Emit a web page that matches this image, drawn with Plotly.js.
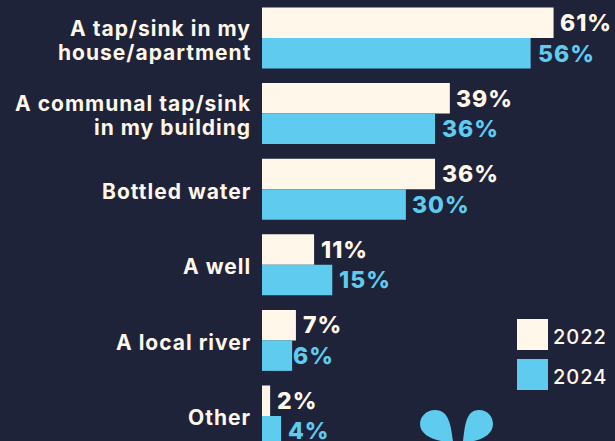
<!DOCTYPE html>
<html><head><meta charset="utf-8">
<script src="https://cdn.plot.ly/plotly-3.0.1.min.js"></script>
<style>html,body{margin:0;padding:0;background:#1e233a;overflow:hidden}
.annotation-text{letter-spacing:1px}</style>
</head><body><div id="chart" style="width:615px;height:441px"></div>
<script>
const categories = ["A tap/sink in my|house/apartment","A communal tap/sink|in my building","Bottled water","A well","A local river","Other"];
const values2022 = [61,39.3,36.2,10.9,7.1,1.7];
const values2024 = [56.2,36.2,30.1,14.7,6.3,4];
const labels2022 = ["61%","39%","36%","11%","7%","2%"];
const labels2024 = ["56%","36%","30%","15%","6%","4%"];
const gaps2022 = [4,4,5,5,5,5];
const gaps2024 = [5,5,4,5,-1,5];
const legendYears = ["2022","2024"];
const cream = "#fff7e9", blue = "#5ecbef", bg = "#1e233a";
const font = "Inter, 'Open Sans', sans-serif";
const W = 615, H = 441, L = 262;
const px = v => (v - L) / (W - L), py = v => 1 - v / H;

const bars = (name, vals, color) => ({type:"bar", orientation:"h", name, x:vals, y:categories, marker:{color, line:{width:0}}, hoverinfo:"skip"});
const labelAnn = (vals, labels, color, shift, gaps) => vals.map((v,i) => ({
  x:v, y:categories[i], xref:"x", yref:"y", text:labels[i], showarrow:false, xanchor:"left", yanchor:"middle",
  xshift:gaps[i], yshift:shift, font:{family:font, size:23, color, weight:800}
}));
const catAnn = categories.flatMap(c => {
  const lines = c.split("|");
  return lines.map((t,j) => ({
    xref:"paper", yref:"y", x:px(250), y:c, text:t, showarrow:false, xanchor:"right", yanchor:"middle",
    xshift:3, yshift:-2 + (lines.length-1)*12 - j*24, font:{family:font, size:21, color:cream, weight:700}
  }));
});
const legendBoxes = legendYears.map((yr,i) => {
  const top = 319 + 40*i;
  return {type:"rect", xref:"paper", yref:"paper", x0:px(517), x1:px(548), y0:py(top), y1:py(top+31), fillcolor:i?blue:cream, line:{width:0}};
});
const legendText = legendYears.map((yr,i) => ({
  xref:"paper", yref:"paper", x:px(551), y:py(337+40*i), text:yr, showarrow:false, xanchor:"left", yanchor:"middle",
  font:{family:font, size:20, color:cream, weight:500}
}));
const drop = (a) => {
  const s = a.map(seg => seg.map(p => px(p[0]) + "," + py(p[1])).join(" "));
  return {type:"path", xref:"paper", yref:"paper", path:"M"+s[0]+" C"+s.slice(1).join(" C")+" Z", fillcolor:blue, line:{width:0}};
};
const drops = [
  drop([[[453,441]],[[451,428],[450,410],[435,410]],[[426,410],[420,417],[420,424]],[[420,433],[430,439],[441,441]]]),
  drop([[[463,441]],[[465,428],[465,410],[479,410]],[[488,410],[493,417],[493,424]],[[493,433],[484,439],[474,441]]])
];
Plotly.newPlot("chart",[bars("2022",values2022,cream),bars("2024",values2024,blue)],{
  width:W, height:H, paper_bgcolor:bg, plot_bgcolor:bg, showlegend:false, barmode:"group", bargap:0.193, bargroupgap:0,
  margin:{l:L,r:0,t:0,b:0,pad:0},
  xaxis:{range:[0,353/4.78], visible:false, fixedrange:true},
  yaxis:{type:"category", categoryorder:"array", categoryarray:categories, range:[5.331,-0.503], showgrid:false, zeroline:false, showline:false, ticks:"", showticklabels:false, automargin:false},
  shapes:[...legendBoxes,...drops],
  annotations:[...labelAnn(values2022,labels2022,cream,15,gaps2022),...labelAnn(values2024,labels2024,blue,-15.5,gaps2024),...catAnn,...legendText]
},{staticPlot:true,displayModeBar:false});
</script></body></html>
